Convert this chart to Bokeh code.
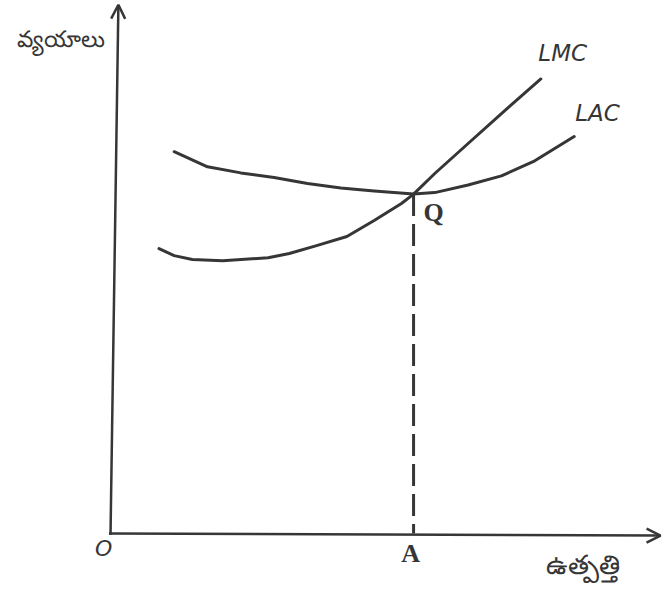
from bokeh.plotting import figure
from bokeh.models import Range1d, Arrow, OpenHead
from bokeh.core.properties import value
from bokeh.embed import file_html
from bokeh.resources import INLINE

# Long-run average cost curve (LAC)
lac_x = [2.1, 3.2, 4.3, 5.4, 6.5, 7.6, 8.7, 10.0, 10.7, 11.8, 12.9, 14.0, 15.3]
lac_y = [12.6, 12.1, 11.9, 11.75, 11.55, 11.4, 11.3, 11.2, 11.25, 11.5, 11.8, 12.3, 13.1]

# Long-run marginal cost curve (LMC)
lmc_x = [1.6, 2.1, 2.7, 3.7, 5.2, 5.9, 6.8, 7.8, 8.7, 9.6, 10.0, 10.7, 11.8, 12.9, 14.2]
lmc_y = [9.4, 9.17, 9.04, 9.0, 9.1, 9.24, 9.5, 9.8, 10.33, 10.89, 11.2, 11.88, 12.87, 13.86, 15.0]

# Equilibrium point Q and output A
q_x = 10.0
q_y = 11.2

y_label = "వ్యయాలు"
x_label = "ఉత్పత్తి"

ink = "#363636"

p = figure(width=664, height=589, output_backend="svg", toolbar_location=None,
           x_range=Range1d(-3.63, 18.28), y_range=Range1d(-1.85, 17.59),
           min_border=0, min_border_left=0, min_border_right=0,
           min_border_top=0, min_border_bottom=0)
p.axis.visible = False
p.grid.visible = False
p.outline_line_color = None
p.background_fill_color = "white"

# axes with arrow heads
p.add_layout(Arrow(end=OpenHead(size=14, line_color=ink, line_width=2.5),
                   x_start=0, y_start=-0.05, x_end=0.26, y_end=17.45,
                   line_color=ink, line_width=2.5))
p.add_layout(Arrow(end=OpenHead(size=14, line_color=ink, line_width=2.5),
                   x_start=-0.05, y_start=0, x_end=18.15, y_end=-0.07,
                   line_color=ink, line_width=2.5))

# curves
p.line(lac_x, lac_y, line_color=ink, line_width=3, line_cap="round", line_join="round")
p.line(lmc_x, lmc_y, line_color=ink, line_width=3, line_cap="round", line_join="round")

# dashed line from Q to A
p.line([q_x, q_x], [q_y, 0], line_color=ink, line_width=3, line_dash="22 8")

def label(x, y, t, size, style="normal", font="DejaVu Sans"):
    p.text(x=[x], y=[y], text=[t], text_align="center", text_baseline="middle",
           text_font_size=size, text_color=ink, text_font_style=style,
           text_font=value(font))

label(-1.65, 16.34, y_label, "23px", font="Noto Sans")
label(15.6, -0.99, x_label, "27px", font="Noto Sans")
label(-0.23, -0.5, "O", "22px", style="italic")
label(q_x - 0.1, -0.66, "A", "26px", style="bold", font="Liberation Serif")
label(q_x + 0.66, 10.6, "Q", "26px", style="bold", font="Liberation Serif")
label(14.92, 15.87, "LMC", "23px", style="italic")
label(16.07, 13.89, "LAC", "23px", style="italic")

open("out.html", "w").write(file_html(p, INLINE))
